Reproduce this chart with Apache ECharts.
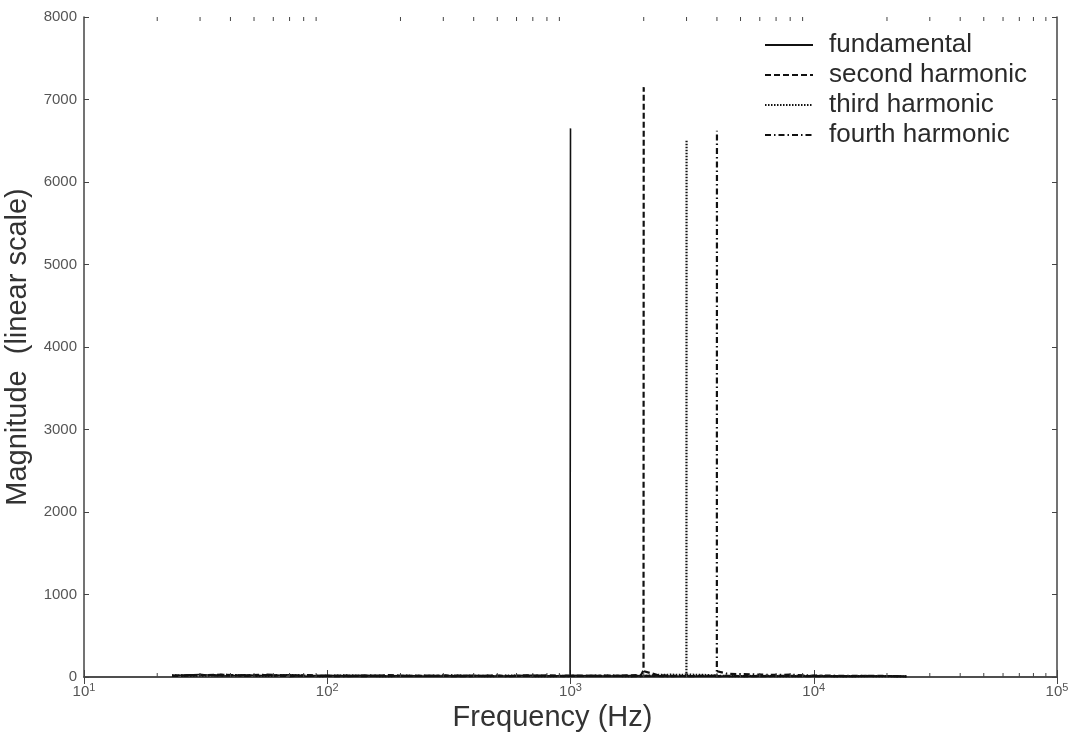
<!DOCTYPE html>
<html>
<head>
<meta charset="utf-8">
<script src="https://cdn.jsdelivr.net/npm/echarts@6/dist/echarts.min.js"></script>
<style>
html,body{margin:0;padding:0;background:#fff;}
#chart{width:1072px;height:739px;}
</style>
</head>
<body>
<div id="chart"></div>
<script>
// 频率点 (Hz)
var binHz = [23,30,37,47,56,70,82,94,117,141,176,211,258,316,387,469,562,680,820,961,
    996,1000,1004,1195,1430,1700,1950,1996,2000,2004,2300,2600,2900,2996,3000,3004,3300,3700,
    3996,4000,4004,4400,5000,5800,6800,8000,9500,11500,14000,17000,20500,24000];

// 各谐波幅值
var fundamental = [18,30,12,25,15,28,10,22,14,20,12,18,10,15,20,12,16,22,14,18,
    20,6650,20,15,12,18,14,10,12,10,14,12,10,12,10,12,10,12,
    10,12,10,12,10,12,10,12,10,12,10,12,10,8];
var secondHarm = [12,22,28,14,24,10,20,12,18,10,22,14,16,12,10,18,12,14,20,10,
    12,14,10,16,12,20,25,80,7150,70,20,14,12,10,12,10,12,14,
    10,12,10,14,12,10,12,14,10,12,10,14,12,8];
var thirdHarm = [20,14,26,18,12,24,16,10,20,14,10,16,12,18,14,10,18,12,10,14,
    12,10,14,12,16,10,14,12,14,12,25,28,26,30,6500,30,26,24,
    14,12,14,12,10,14,12,10,14,12,10,12,10,8];
var fourthHarm = [14,26,18,22,28,16,24,14,10,16,18,12,14,20,12,16,10,20,12,16,
    14,12,10,14,18,12,10,14,12,10,12,10,14,12,10,12,14,12,
    20,6620,70,40,35,30,25,28,18,16,14,12,12,8];

var seriesNames = ['fundamental','second harmonic','third harmonic','fourth harmonic'];
var dashTypes = ['solid',[6,3],[1.5,1.5],[6,3,1.5,3]];
var lineWidths = [1.6,2.2,2.2,2.2];

// 坐标轴刻度
var yMax = 8000, yStep = 1000;
var xMin = 10, xMax = 100000;
var minorTickHz = [];
[10,100,1000,10000].forEach(function(d){
    for(var k=2;k<=9;k++){ minorTickHz.push(k*d); }
});

var font = 'Liberation Sans, Arial, sans-serif';
var allMags = [fundamental, secondHarm, thirdHarm, fourthHarm];

var chart = echarts.init(document.getElementById('chart'));

var series = seriesNames.map(function(name,i){
    var data = [];
    binHz.forEach(function(f,j){
        data.push([f, allMags[i][j]]);
        // 峰值后断开，避免上下两段虚线叠在一起变成实线
        if(allMags[i][j] > 1000){ data.push([f, '-']); }
    });
    return {
        name: name,
        type: 'line',
        symbol: 'none',
        animation: false,
        connectNulls: false,
        data: data,
        lineStyle: {color:'#111', width: lineWidths[i], type: dashTypes[i]},
        z: 3
    };
});

// 对数轴的次刻度 (上下两边)
series.push({
    type: 'custom',
    silent: true,
    animation: false,
    clip: false,
    z: 5,
    data: minorTickHz.map(function(h){ return [h, 0]; }),
    renderItem: function(params, api){
        var b = api.coord([api.value(0), 0]);
        var t = api.coord([api.value(0), yMax]);
        return {
            type: 'group',
            children: [
                {type:'line', shape:{x1:b[0],y1:b[1],x2:b[0],y2:b[1]-4}, style:{stroke:'#444',lineWidth:1}},
                {type:'line', shape:{x1:t[0],y1:t[1],x2:t[0],y2:t[1]+4}, style:{stroke:'#444',lineWidth:1}}
            ]
        };
    }
});

var axisLineStyle = {color:'#444', width:1.5};

chart.setOption({
    backgroundColor: '#fff',
    animation: false,
    grid: {left: 84, right: 15, top: 17, bottom: 62, containLabel: false, outerBoundsMode: 'none'},
    legend: {
        data: seriesNames,
        orient: 'vertical',
        left: 759,
        top: 27,
        itemWidth: 48,
        itemHeight: 14,
        itemGap: 4,
        textStyle: {fontFamily: font, fontSize: 26, color: '#2a2a2a', lineHeight: 26, padding: [0,0,0,11]},
        itemStyle: {opacity: 0}
    },
    xAxis: [{
        type: 'log',
        logBase: 10,
        min: xMin,
        max: xMax,
        name: 'Frequency (Hz)',
        nameLocation: 'middle',
        nameGap: 26,
        nameTextStyle: {fontFamily: font, fontSize: 29, color: '#333', padding: [0,36,0,0]},
        axisLine: {lineStyle: axisLineStyle},
        axisTick: {inside: true, length: 7, lineStyle: {color:'#444'}},
        splitLine: {show: false},
        axisLabel: {
            margin: 3,
            formatter: function(v){
                return '{b|10}{sup|' + Math.round(Math.log10(v)) + '}';
            },
            color: '#555',
            rich: {
                b: {fontFamily: font, fontSize: 15, color: '#555', lineHeight: 18, padding: [5,0,0,0]},
                sup: {fontFamily: font, fontSize: 11, color: '#555', lineHeight: 18, padding: [0,0,3,0]}
            }
        }
    },{
        type: 'log',
        logBase: 10,
        min: xMin,
        max: xMax,
        position: 'top',
        axisLine: {lineStyle: axisLineStyle},
        axisTick: {inside: true, length: 7, lineStyle: {color:'#444'}},
        axisLabel: {show: false},
        splitLine: {show: false}
    }],
    yAxis: [{
        type: 'value',
        min: 0,
        max: yMax,
        interval: yStep,
        name: 'Magnitude  (linear scale)',
        nameLocation: 'middle',
        nameGap: 50,
        nameTextStyle: {fontFamily: font, fontSize: 29, color: '#333'},
        axisLine: {show: true, lineStyle: axisLineStyle},
        axisTick: {show: true, inside: true, length: 5, lineStyle: {color:'#444'}},
        splitLine: {show: false},
        axisLabel: {fontFamily: font, fontSize: 15, color: '#555', margin: 7, formatter: function(v){ return String(v); }}
    },{
        type: 'value',
        min: 0,
        max: yMax,
        interval: yStep,
        position: 'right',
        axisLine: {show: true, lineStyle: axisLineStyle},
        axisTick: {show: true, inside: true, length: 5, lineStyle: {color:'#444'}},
        axisLabel: {show: false},
        splitLine: {show: false}
    }],
    series: series
});
</script>
</body>
</html>
